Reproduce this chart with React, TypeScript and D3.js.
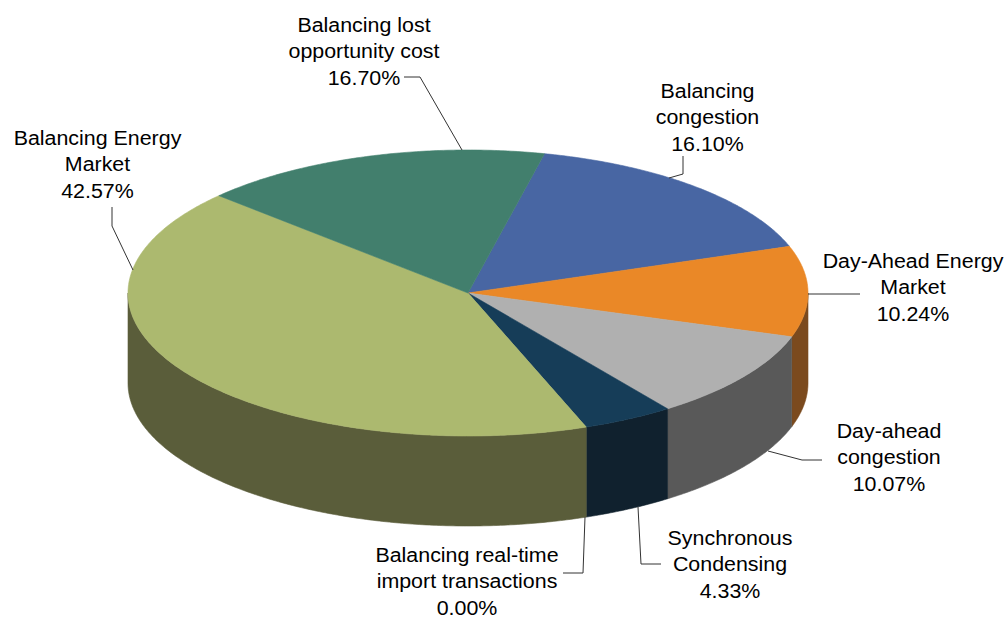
import React from "react";
import * as d3 from "d3";

// ---- data (clockwise order, starting at the first slice after 12 o'clock) ----
const categories = [
  "Balancing congestion",
  "Day-Ahead Energy Market",
  "Day-ahead congestion",
  "Synchronous Condensing",
  "Balancing real-time import transactions",
  "Balancing Energy Market",
  "Balancing lost opportunity cost",
];
const values = [16.1, 10.24, 10.07, 4.33, 0.0, 42.57, 16.7];
const labelNameLines = [
  ["Balancing", "congestion"],
  ["Day-Ahead Energy", "Market"],
  ["Day-ahead", "congestion"],
  ["Synchronous", "Condensing"],
  ["Balancing real-time", "import transactions"],
  ["Balancing Energy", "Market"],
  ["Balancing lost", "opportunity cost"],
];

// ---- styles ----
const topColors = ["#4866A3", "#EA8827", "#B0B0B0", "#163D58", "#5A7FB0", "#ACB96F", "#427F6D"];
const sideColors = ["#26365A", "#7B4A1E", "#595959", "#10212E", "#2E3F5A", "#5A5D3A", "#22433A"];

// ---- layout ----
const W = 1008;
const H = 619;
const CX = 468;
const CY = 293;
const RX = 340;
const RY = 143;
const DEPTH = 90;
const START_DEG = 13;
const FONT = 20;
const LINE_H = 26.5;
const TEXT_STRETCH = 1.07;

const labelLayout = [
  { x: 707.5, y: 98, leader: [[683, 156], [683, 174], [669, 178]] },
  { x: 913, y: 268, leader: [[808, 294], [860, 294]] },
  { x: 889, y: 438, leader: [[768, 451], [802, 460], [822, 460]] },
  { x: 730, y: 545, leader: [[638, 507], [641, 564], [661, 564]] },
  { x: 467, y: 562, leader: [[585, 517], [583, 573], [563, 573]] },
  { x: 97.5, y: 145, leader: [[112, 207], [112, 226], [133, 270]] },
  { x: 364, y: 32, leader: [[404, 77], [420, 77], [462, 150]] },
];

const px = (a: number) => CX + RX * Math.sin(a);
const py = (a: number, dz = 0) => CY - RY * Math.cos(a) + dz;

function arcPoints(a0: number, a1: number, dz: number): [number, number][] {
  const n = Math.max(2, Math.ceil(Math.abs(a1 - a0) / 0.01));
  const step = (a1 - a0) / n;
  return d3.range(n + 1).map((i) => {
    const a = a0 + step * i;
    return [px(a), py(a, dz)] as [number, number];
  });
}

const line = d3.line<[number, number]>().x((d) => d[0]).y((d) => d[1]);

export default function App() {
  const start = (START_DEG * Math.PI) / 180;
  const pie = d3
    .pie<number>()
    .sort(null)
    .startAngle(start)
    .endAngle(start + 2 * Math.PI)(values);

  const fronts = [
    [Math.PI / 2, (3 * Math.PI) / 2],
    [Math.PI / 2 + 2 * Math.PI, (3 * Math.PI) / 2 + 2 * Math.PI],
  ];

  const sides: { d: string; i: number }[] = [];
  pie.forEach((s, i) => {
    if (s.endAngle - s.startAngle <= 0) return;
    fronts.forEach(([f0, f1]) => {
      const a0 = Math.max(s.startAngle, f0);
      const a1 = Math.min(s.endAngle, f1);
      if (a1 > a0) {
        const pts = [...arcPoints(a0, a1, 0), ...arcPoints(a1, a0, DEPTH)];
        sides.push({ d: line(pts) + "Z", i });
      }
    });
  });

  const tops = pie
    .map((s, i) => {
      if (s.endAngle - s.startAngle <= 0) return null;
      const pts: [number, number][] = [[CX, CY], ...arcPoints(s.startAngle, s.endAngle, 0)];
      return { d: line(pts) + "Z", i };
    })
    .filter(Boolean) as { d: string; i: number }[];

  return (
    <svg
      width={W}
      height={H}
      viewBox={`0 0 ${W} ${H}`}
      style={{ position: "absolute", left: 0, top: 0, background: "#fff" }}
      fontFamily="'Liberation Sans', Arial, sans-serif"
    >
      <g>
        {sides.map((s, k) => (
          <path key={"s" + k} d={s.d} fill={sideColors[s.i]} stroke={sideColors[s.i]} strokeWidth={0.6} />
        ))}
        {tops.map((t) => (
          <path key={"t" + t.i} d={t.d} fill={topColors[t.i]} stroke={topColors[t.i]} strokeWidth={0.6} />
        ))}
      </g>
      <g>
        {categories.map((c, i) => {
          const L = labelLayout[i];
          return (
            <polyline
              key={"l" + i}
              points={L.leader.map((p) => p.join(",")).join(" ")}
              fill="none"
              stroke="#333"
              strokeWidth={1}
            />
          );
        })}
      </g>
      <g fontSize={FONT} fill="#000" textAnchor="middle">
        {categories.map((c, i) => {
          const L = labelLayout[i];
          const lines = [...labelNameLines[i], values[i].toFixed(2) + "%"];
          return (
            <text key={"t" + i} transform={`translate(${L.x},0) scale(${TEXT_STRETCH},1)`} x={0} y={L.y}>
              {lines.map((ln, j) => (
                <tspan key={j} x={0} y={L.y + j * LINE_H}>
                  {ln}
                </tspan>
              ))}
            </text>
          );
        })}
      </g>
    </svg>
  );
}
